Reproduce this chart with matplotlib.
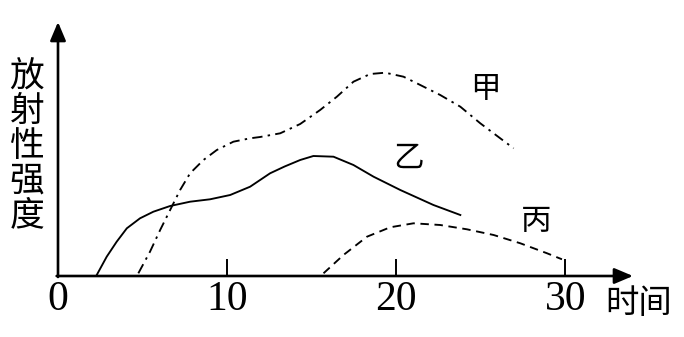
import matplotlib
matplotlib.use("Agg")
from matplotlib import pyplot as plt

plt.rcParams['font.family'] = ['Noto Sans CJK SC', 'DejaVu Sans']

# 甲 curve (dash-dot)
jia_x = [4.75, 5.44, 6.04, 6.63, 7.22, 7.81, 8.6, 9.39, 10.37, 11.36, 11.95, 13.14, 14.32,
         15.5, 16.49, 17.47, 18.46, 19.35, 20.43, 21.42, 22.6, 23.79, 24.97, 26.15, 26.94]
jia_y = [0.27, 2.43, 4.6, 6.6, 8.6, 10.27, 11.6, 12.6, 13.43, 13.77, 13.9, 14.27, 15.2,
         16.6, 17.93, 19.43, 20.2, 20.33, 19.93, 19.1, 18.1, 16.93, 15.27, 13.77, 12.77]
# 乙 curve (solid)
yi_x = [2.29, 2.88, 3.47, 4.07, 4.85, 5.64, 6.63, 7.81, 8.99, 10.18, 11.36, 12.54, 13.4,
        14.32, 15.1, 16.29, 17.47, 18.66, 20.24, 22.2, 23.79]
yi_y = [0.1, 1.93, 3.43, 4.77, 5.77, 6.43, 7.0, 7.43, 7.67, 8.1, 8.93, 10.27, 10.95,
        11.6, 12.0, 11.93, 11.1, 9.93, 8.6, 7.1, 6.1]
# 丙 curve (dashed)
bing_x = [15.7, 16.88, 18.27, 19.64, 21.02, 22.6, 24.18, 25.76, 27.34, 28.92, 29.8]
bing_y = [0.27, 2.1, 3.93, 4.87, 5.27, 5.1, 4.67, 4.1, 3.27, 2.27, 1.67]

xticks = [0, 10, 20, 30]
xmax, ymax = 34.0, 25.4

W, H = 684, 337
fig = plt.figure(figsize=(W / 100, H / 100), dpi=100)
x0, y0 = 58, 276          # origin in pixels
ax = fig.add_axes([x0 / W, (H - y0) / H, (633 - x0) / W, (y0 - 22) / H])
ax.set_xlim(0, xmax)
ax.set_ylim(0, ymax)
for s in ax.spines.values():
    s.set_visible(False)

# axes with arrows
arr = dict(arrowstyle='-|>,head_length=0.45,head_width=0.19', mutation_scale=25,
           color='black', lw=1.9, shrinkA=0, shrinkB=0)
ax.annotate('', xy=(xmax, 0), xytext=(-0.08, 0), arrowprops=arr, annotation_clip=False)
ax.annotate('', xy=(0, ymax), xytext=(0, -0.1), arrowprops=arr, annotation_clip=False)

ax.set_yticks([])
ax.set_xticks(xticks)
ax.set_xticklabels([str(t) for t in xticks], family='Liberation Serif', fontsize=30)
ax.tick_params(axis='x', direction='in', length=12, width=1.4, pad=3, color='black')
ax.xaxis.get_major_ticks()[0].tick1line.set_visible(False)

lw = 1.35
ax.plot(jia_x, jia_y, color='black', lw=lw, ls=(0, (5.5, 2.8, 1.3, 2.8)), clip_on=False)
ax.plot(yi_x, yi_y, color='black', lw=lw, clip_on=False)
ax.plot(bing_x, bing_y, color='black', lw=lw, ls=(0, (4.5, 3)), clip_on=False)

ax.text(25.3, 18.6, '甲', fontsize=22, ha='center', va='center')
ax.text(20.7, 11.8, '乙', fontsize=22, ha='center', va='center')
ax.text(28.3, 5.4, '丙', fontsize=22, ha='center', va='center')

fig.text(27 / W, 1 - 146 / H, '\n'.join('放射性强度'), fontsize=25,
         ha='center', va='center', linespacing=1.0)
fig.text(639 / W, 1 - 304 / H, '时间', fontsize=24, ha='center', va='center')

fig.savefig('out.png', dpi=100)
